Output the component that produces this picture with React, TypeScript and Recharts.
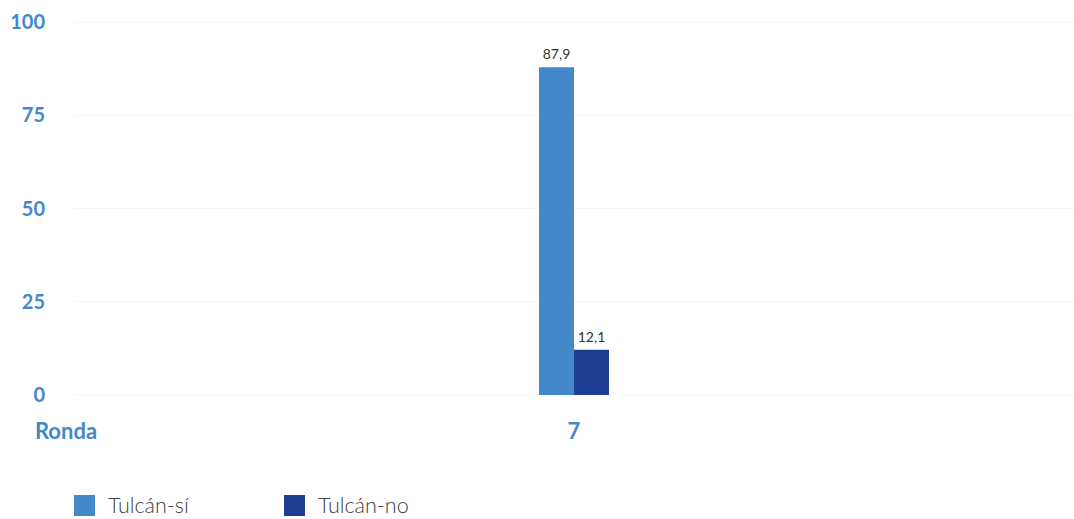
import React from 'react';
import { BarChart, Bar, XAxis, YAxis, CartesianGrid, Legend, LabelList } from 'recharts';

const categories = ['7'];
const siValues = [87.9];
const noValues = [12.1];
const yTicks = [0, 25, 50, 75, 100];
const seriesNames = ['Tulcán-sí', 'Tulcán-no'];
const seriesColors = ['#4389C9', '#1C3F92'];
const axisTitle = 'Ronda';

const data = categories.map((c, i) => ({ ronda: c, si: siValues[i], no: noValues[i] }));

const TICK_COLOR = '#4389C9';
const FONT = 'Lato, "Open Sans", "DejaVu Sans", sans-serif';

const fmt = (v: any) => String(v).replace('.', ',');

const YTick = (props: any) => {
  const { y, payload } = props;
  return (
    <text x={45} y={y} dy={7} textAnchor="end" fill={TICK_COLOR} fontSize={20} fontWeight={700} fontFamily={FONT}>
      {payload.value}
    </text>
  );
};

const XTick = (props: any) => {
  const { x, y, payload, index } = props;
  return (
    <g>
      {index === 0 && (
        <text x={66} y={y} dy={36} textAnchor="middle" fill={TICK_COLOR} fontSize={22} fontWeight={700} fontFamily={FONT}>
          {axisTitle}
        </text>
      )}
      <text x={x} y={y} dy={36} textAnchor="middle" fill={TICK_COLOR} fontSize={22} fontWeight={700} fontFamily={FONT}>
        {payload.value}
      </text>
    </g>
  );
};

const LegendContent = () => (
  <div style={{ height: 44, position: 'relative', fontFamily: FONT }}>
    {seriesNames.map((n, i) => (
      <div
        key={n}
        style={{ position: 'absolute', left: 74 + i * 210, top: 20, display: 'flex', alignItems: 'center', height: 21 }}
      >
        <div style={{ width: 21, height: 21, background: seriesColors[i] }} />
        <span style={{ marginLeft: 13, fontSize: 21.5, color: '#404040', fontWeight: 300, lineHeight: '21px' }}>{n}</span>
      </div>
    ))}
  </div>
);

export default function App() {
  return (
    <div style={{ position: 'absolute', left: 0, top: 0, width: 1074, height: 519, background: '#fff' }}>
      <BarChart
        width={1074}
        height={519}
        data={data}
        margin={{ top: 22, right: 0, bottom: 0, left: 0 }}
        barGap={0}
        barSize={35}
      >
        <CartesianGrid vertical={false} stroke="#f6f6f6" />
        <XAxis dataKey="ronda" axisLine={false} tickLine={false} height={80} tick={<XTick />} interval={0} />
        <YAxis
          domain={[0, 100]}
          ticks={yTicks}
          axisLine={false}
          tickLine={false}
          width={74}
          tick={<YTick />}
        />
        <Legend verticalAlign="bottom" content={<LegendContent />} wrapperStyle={{ left: 0, width: 1074 }} />
        <Bar dataKey="si" name={seriesNames[0]} fill={seriesColors[0]} isAnimationActive={false}>
          <LabelList dataKey="si" position="top" offset={8} formatter={fmt} fill="#333" fontSize={14} fontFamily={FONT} />
        </Bar>
        <Bar dataKey="no" name={seriesNames[1]} fill={seriesColors[1]} isAnimationActive={false}>
          <LabelList dataKey="no" position="top" offset={8} formatter={fmt} fill="#333" fontSize={14} fontFamily={FONT} />
        </Bar>
      </BarChart>
    </div>
  );
}
